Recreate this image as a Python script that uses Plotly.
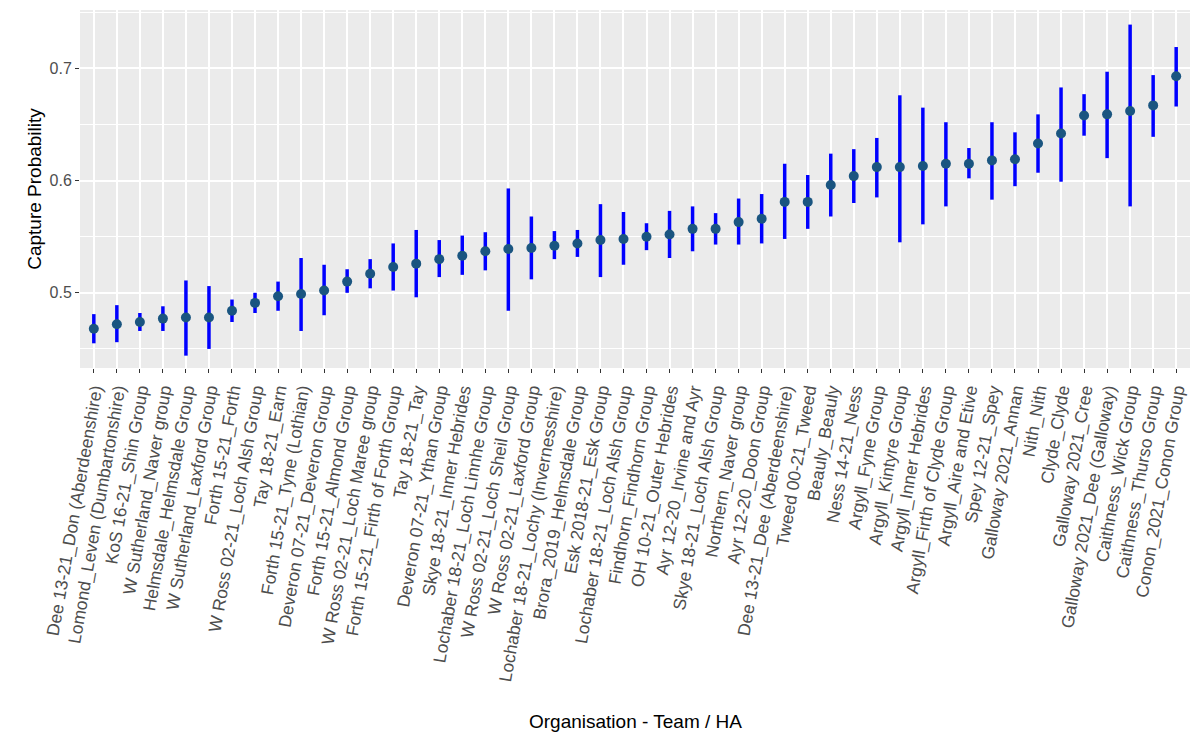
import plotly.graph_objects as go

teams = [
    "Dee 13-21_Don (Aberdeenshire)", "Lomond_Leven (Dumbartonshire)", "KoS 16-21_Shin Group",
    "W Sutherland_Naver group", "Helmsdale_Helmsdale Group", "W Sutherland_Laxford Group",
    "Forth 15-21_Forth", "W Ross 02-21_Loch Alsh Group", "Tay 18-21_Earn",
    "Forth 15-21_Tyne (Lothian)", "Deveron 07-21_Deveron Group", "Forth 15-21_Almond Group",
    "W Ross 02-21_Loch Maree group", "Forth 15-21_Firth of Forth Group", "Tay 18-21_Tay",
    "Deveron 07-21_Ythan Group", "Skye 18-21_Inner Hebrides", "Lochaber 18-21_Loch Linnhe Group",
    "W Ross 02-21_Loch Sheil Group", "W Ross 02-21_Laxford Group", "Lochaber 18-21_Lochy (Invernesshire)",
    "Brora_2019_Helmsdale Group", "Esk 2018-21_Esk Group", "Lochaber 18-21_Loch Alsh Group",
    "Findhorn_Findhorn Group", "OH 10-21_Outer Hebrides", "Ayr 12-20_Irvine and Ayr",
    "Skye 18-21_Loch Alsh Group", "Northern_Naver group", "Ayr 12-20_Doon Group",
    "Dee 13-21_Dee (Aberdeenshire)", "Tweed 00-21_Tweed", "Beauly_Beauly", "Ness 14-21_Ness",
    "Argyll_Fyne Group", "Argyll_Kintyre Group", "Argyll_Inner Hebrides",
    "Argyll_Firth of Clyde Group", "Argyll_Aire and Etive", "Spey 12-21_Spey",
    "Galloway 2021_Annan", "Nith_Nith", "Clyde_Clyde", "Galloway 2021_Cree",
    "Galloway 2021_Dee (Galloway)", "Caithness_Wick Group", "Caithness_Thurso Group",
    "Conon_2021_Conon Group",
]
prob = [0.468, 0.472, 0.474, 0.477, 0.478, 0.478, 0.484, 0.491, 0.497, 0.499, 0.502, 0.510,
        0.517, 0.523, 0.526, 0.530, 0.533, 0.537, 0.539, 0.540, 0.542, 0.544, 0.547, 0.548,
        0.550, 0.552, 0.557, 0.557, 0.563, 0.566, 0.581, 0.581, 0.596, 0.604, 0.612, 0.612,
        0.613, 0.615, 0.615, 0.618, 0.619, 0.633, 0.642, 0.658, 0.659, 0.662, 0.667, 0.693]
lower = [0.455, 0.456, 0.466, 0.466, 0.444, 0.450, 0.474, 0.482, 0.484, 0.466, 0.480, 0.500,
         0.504, 0.502, 0.496, 0.514, 0.516, 0.520, 0.484, 0.512, 0.530, 0.532, 0.514, 0.525,
         0.538, 0.531, 0.537, 0.543, 0.543, 0.544, 0.548, 0.557, 0.568, 0.580, 0.585, 0.545,
         0.561, 0.577, 0.602, 0.583, 0.595, 0.607, 0.599, 0.640, 0.620, 0.577, 0.639, 0.666]
upper = [0.481, 0.489, 0.482, 0.488, 0.511, 0.506, 0.494, 0.500, 0.510, 0.531, 0.525, 0.521,
         0.530, 0.544, 0.556, 0.547, 0.551, 0.554, 0.593, 0.568, 0.555, 0.556, 0.579, 0.572,
         0.562, 0.573, 0.577, 0.571, 0.584, 0.588, 0.615, 0.605, 0.624, 0.628, 0.638, 0.676,
         0.665, 0.652, 0.629, 0.652, 0.643, 0.659, 0.683, 0.677, 0.697, 0.739, 0.694, 0.719]

fig = go.Figure()
for t, lo, hi in zip(teams, lower, upper):
    fig.add_trace(go.Scatter(x=[t, t], y=[lo, hi], mode="lines",
                             line=dict(color="#0000ff", width=3.5), hoverinfo="skip"))
fig.add_trace(go.Scatter(x=teams, y=prob, mode="markers",
                         marker=dict(color="#1a5580", size=10)))

# page has an 8px body margin, so the figure is sized to fit inside it
W, H = 1183, 731
top, bottom = 2, 371
plot_h = H - top - bottom
fig.update_layout(
    width=W, height=H, showlegend=False,
    plot_bgcolor="#ebebeb", paper_bgcolor="white",
    margin=dict(l=72, r=1, t=top, b=bottom),
    font=dict(family="Liberation Sans, Arial", color="#4d4d4d", size=16),
    annotations=[dict(text="Organisation - Team / HA", x=0.5, xref="paper",
                      y=-(721 - 368) / plot_h, yref="paper",
                      yanchor="middle", showarrow=False, font=dict(size=19, color="black"))],
)
fig.update_xaxes(
    type="category", categoryorder="array", categoryarray=teams, automargin=False,
    tickangle=-80, tickfont=dict(size=17.5, color="#4d4d4d"),
    gridcolor="white", gridwidth=1.5, ticks="outside", ticklen=4, tickcolor="#333",
    range=[-0.6, 47.6],
)
fig.update_yaxes(
    range=[0.433, 0.752], tickvals=[0.5, 0.6, 0.7], ticktext=["0.5", "0.6", "0.7"],
    gridcolor="white", gridwidth=1.5, zeroline=False, automargin=False,
    minor=dict(tickvals=[0.45, 0.55, 0.65, 0.75], gridcolor="white", gridwidth=0.7),
    ticks="outside", ticklen=4, tickcolor="#333", tickfont=dict(size=16, color="#4d4d4d"),
    title=dict(text="Capture Probability", font=dict(size=19, color="black"), standoff=2),
)

fig.write_html("out.html")
